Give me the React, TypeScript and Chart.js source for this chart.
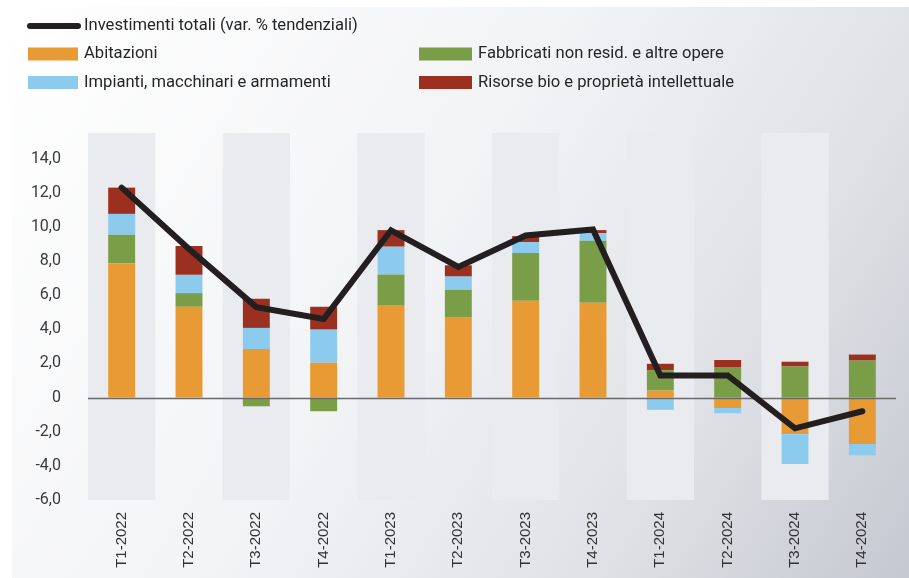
import React, { useEffect, useRef } from "react";
import { Chart, registerables } from "chart.js";

Chart.register(...registerables);

const categories = [
  "T1-2022", "T2-2022", "T3-2022", "T4-2022",
  "T1-2023", "T2-2023", "T3-2023", "T4-2023",
  "T1-2024", "T2-2024", "T3-2024", "T4-2024",
];
const abitazioni = [7.87, 5.32, 2.84, 2.04, 5.42, 4.68, 5.67, 5.56, 0.41, -0.61, -2.14, -2.72];
const fabbricati = [1.67, 0.8, -0.51, -0.8, 1.79, 1.63, 2.8, 3.63, 1.2, 1.79, 1.82, 2.17];
const impianti = [1.22, 1.07, 1.24, 1.94, 1.63, 0.78, 0.64, 0.45, -0.72, -0.31, -1.75, -0.66];
const risorse = [1.54, 1.69, 1.71, 1.34, 0.97, 0.66, 0.35, 0.17, 0.37, 0.41, 0.28, 0.35];
const totale = [12.3, 8.7, 5.3, 4.6, 9.8, 7.65, 9.5, 9.85, 1.3, 1.3, -1.8, -0.8];

const yMin = -6;
const yMax = 15.5;
const yTickMax = 14;
const yStep = 2;

const COLORS = {
  line: "#231f20",
  abitazioni: "#e89b35",
  fabbricati: "#7a9d47",
  impianti: "#8dcbee",
  risorse: "#9b3021",
};

const fmt = (v: number) => (v === 0 ? "0" : v.toFixed(1).replace(".", ","));

const backgroundPlugin = {
  id: "bgBands",
  beforeDraw(chart: any) {
    const { ctx, width, height, chartArea, scales } = chart;
    ctx.save();
    ctx.fillStyle = "#ffffff";
    ctx.fillRect(0, 0, width, height);
    const g = ctx.createLinearGradient(12, 7, width, height);
    g.addColorStop(0, "#ffffff");
    g.addColorStop(0.45, "#f2f3f5");
    g.addColorStop(0.75, "#dfe1e6");
    g.addColorStop(1, "#c5c8d0");
    ctx.fillStyle = g;
    ctx.fillRect(12, 7, width - 12, height - 7);
    const x = scales.x;
    const n = chart.data.labels.length;
    const w = (chartArea.right - chartArea.left) / n;
    ctx.fillStyle = "#eaebef";
    for (let i = 0; i < n; i += 2) {
      const cx = x.getPixelForValue(i);
      ctx.fillRect(cx - w / 2, chartArea.top, w, chartArea.bottom - chartArea.top);
    }
    ctx.restore();
  },
  beforeDatasetDraw(chart: any, args: any) {
    if (chart.data.datasets[args.index].type !== "line") return;
    const { ctx, chartArea, scales } = chart;
    const y0 = Math.round(scales.y.getPixelForValue(0)) + 0.5;
    ctx.save();
    ctx.strokeStyle = "#6a6a6a";
    ctx.lineWidth = 1.5;
    ctx.beginPath();
    ctx.moveTo(chartArea.left, y0);
    ctx.lineTo(chartArea.right, y0);
    ctx.stroke();
    ctx.restore();
  },
};

const legendPlugin = {
  id: "customLegend",
  afterDraw(chart: any) {
    const { ctx } = chart;
    const ds = chart.data.datasets;
    const slots = [
      { x: 28, y: 26, tx: 84 },
      { x: 28, y: 54, tx: 84 },
      { x: 419, y: 54, tx: 478 },
      { x: 28, y: 82.5, tx: 84 },
      { x: 419, y: 82.5, tx: 478 },
    ];
    ctx.save();
    ctx.font = "16.6px Roboto";
    ctx.textBaseline = "middle";
    ctx.textAlign = "left";
    ds.forEach((d: any, i: number) => {
      const s = slots[i];
      if (!s) return;
      if (d.type === "line") {
        ctx.strokeStyle = d.borderColor;
        ctx.lineWidth = 6;
        ctx.lineCap = "round";
        ctx.beginPath();
        ctx.moveTo(s.x + 2, s.y);
        ctx.lineTo(s.x + 50, s.y);
        ctx.stroke();
      } else {
        ctx.fillStyle = d.backgroundColor;
        ctx.fillRect(s.x, s.y - 6.5, s.tx - s.x - 6, 13);
      }
      ctx.fillStyle = "#262626";
      ctx.fillText(d.label, s.tx, s.y);
    });
    ctx.restore();
  },
};

export default function App() {
  const ref = useRef<HTMLCanvasElement | null>(null);
  useEffect(() => {
    if (!ref.current) return;
    const chart = new Chart(ref.current, {
      type: "bar",
      data: {
        labels: categories,
        datasets: [
          {
            type: "line",
            label: "Investimenti totali (var. % tendenziali)",
            data: totale,
            borderColor: COLORS.line,
            backgroundColor: COLORS.line,
            borderWidth: 6,
            pointRadius: 0,
            borderCapStyle: "round",
            borderJoinStyle: "miter",
            tension: 0,
            stack: "total",
            order: 0,
          } as any,
          {
            type: "bar",
            label: "Abitazioni",
            data: abitazioni,
            backgroundColor: COLORS.abitazioni,
            stack: "comp",
            order: 1,
          },
          {
            type: "bar",
            label: "Fabbricati non resid. e altre opere",
            data: fabbricati,
            backgroundColor: COLORS.fabbricati,
            stack: "comp",
            order: 1,
          },
          {
            type: "bar",
            label: "Impianti, macchinari e armamenti",
            data: impianti,
            backgroundColor: COLORS.impianti,
            stack: "comp",
            order: 1,
          },
          {
            type: "bar",
            label: "Risorse bio e proprietà intellettuale",
            data: risorse,
            backgroundColor: COLORS.risorse,
            stack: "comp",
            order: 1,
          },
        ],
      },
      options: {
        responsive: false,
        animation: false,
        layout: { padding: { left: 0, top: 133, right: 13, bottom: 0 } },
        datasets: {
          bar: { barPercentage: 0.4, categoryPercentage: 1, borderWidth: 0 },
        },
        plugins: {
          legend: { display: false },
          tooltip: { enabled: false },
        },
        scales: {
          x: {
            stacked: true,
            grid: { display: false, drawTicks: false },
            border: { display: false },
            afterFit: (s: any) => {
              s.height = 78;
            },
            ticks: {
              autoSkip: false,
              minRotation: 90,
              maxRotation: 90,
              padding: 12,
              color: "#333333",
              font: { family: "'Liberation Sans', Arial, sans-serif", size: 15 },
            },
          },
          y: {
            stacked: true,
            min: yMin,
            max: yMax,
            grid: { display: false, drawTicks: false },
            border: { display: false },
            afterFit: (s: any) => {
              s.width = 88;
            },
            afterBuildTicks: (s: any) => {
              s.ticks = s.ticks.filter((t: any) => t.value <= yTickMax && Math.abs(t.value % yStep) < 1e-9);
            },
            ticks: {
              stepSize: yStep,
              padding: 27,
              color: "#3a3a3a",
              font: { family: "Roboto", size: 16 },
              callback: (v: any) => fmt(Number(v)),
            },
          },
        },
      },
      plugins: [backgroundPlugin, legendPlugin],
    });
    return () => chart.destroy();
  }, []);
  return (
    <div style={{ position: "fixed", left: 0, top: 0, width: 909, height: 578 }}>
      <canvas ref={ref} width={909} height={578} style={{ display: "block", width: 909, height: 578 }} />
    </div>
  );
}
